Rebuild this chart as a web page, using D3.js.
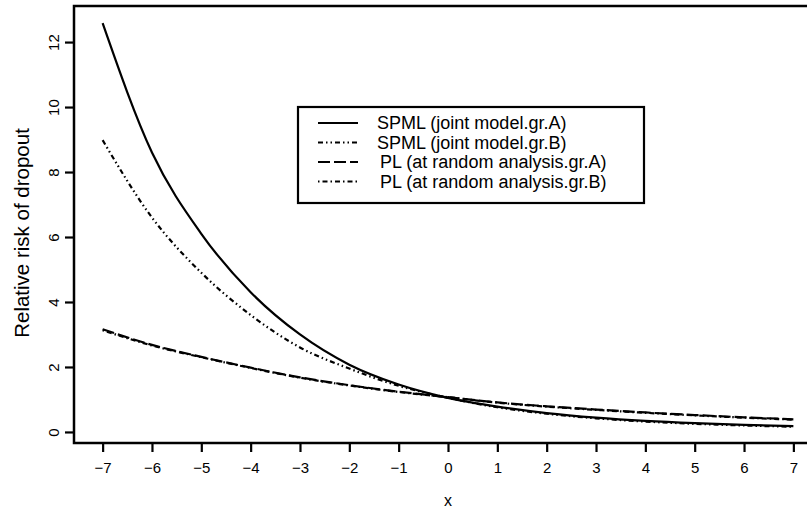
<!DOCTYPE html>
<html>
<head>
<meta charset="utf-8">
<script src="https://cdn.jsdelivr.net/npm/d3@7"></script>
<style>
  body { margin: 0; background: #fff; }
  text { font-family: "Liberation Sans", Arial, sans-serif; fill: #000; }
</style>
</head>
<body>
<div class="visHolder"></div>
<script>
// values
const xValues = [-7, -6, -5, -4, -3, -2, -1, 0, 1, 2, 3, 4, 5, 6, 7];
const spmlA = [12.58, 8.6, 6.1, 4.3, 3.0, 2.07, 1.46, 1.05, 0.78, 0.58, 0.44, 0.34, 0.27, 0.22, 0.18];
const spmlB = [8.98, 6.6, 4.9, 3.6, 2.6, 1.95, 1.42, 1.05, 0.76, 0.56, 0.42, 0.32, 0.25, 0.2, 0.16];
const plA = [3.16, 2.68, 2.31, 1.98, 1.68, 1.44, 1.24, 1.07, 0.91, 0.79, 0.69, 0.6, 0.52, 0.45, 0.39];
const plB = [3.13, 2.66, 2.3, 1.97, 1.67, 1.43, 1.23, 1.07, 0.9, 0.78, 0.68, 0.59, 0.51, 0.44, 0.38];
const seriesNames = [
  "SPML (joint model.gr.A)",
  "SPML (joint model.gr.B)",
  "PL (at random analysis.gr.A)",
  "PL (at random analysis.gr.B)"
];
const xTicks = d3.range(-7, 8, 1);
const yTicks = [0, 2, 4, 6, 8, 10, 12];

const width = 807;
const height = 512;

const series = [
  { name: seriesNames[0], values: spmlA, dash: null },
  { name: seriesNames[1], values: spmlB, dash: "5,3,1.5,3,1.5,3" },
  { name: seriesNames[2], values: plA, dash: "12,4" },
  { name: seriesNames[3], values: plB, dash: "1.5,3,5,3" }
];

const xScale = d3.scaleLinear().domain([-7.56, 7.56]).range([75, 821]);
const yScale = d3.scaleLinear().domain([-0.34, 13.11]).range([443, 6]);

const svg = d3.select(".visHolder")
  .append("svg")
  .attr("width", width)
  .attr("height", height);

// plot box (right side runs off the picture)
svg.append("rect")
  .attr("x", 74)
  .attr("y", 6)
  .attr("width", 760)
  .attr("height", 437)
  .attr("fill", "none")
  .attr("stroke", "#000")
  .attr("stroke-width", 2.5);

// curves
const line = d3.line()
  .x((d, i) => xScale(xValues[i]))
  .y(d => yScale(d))
  .curve(d3.curveMonotoneX);

svg.selectAll(".curve")
  .data(series)
  .enter()
  .append("path")
  .attr("class", "curve")
  .attr("d", d => line(d.values))
  .attr("fill", "none")
  .attr("stroke", "#000")
  .attr("stroke-width", 2.2)
  .attr("stroke-dasharray", d => d.dash);

// x axis
const xAxis = svg.append("g")
  .attr("transform", "translate(0, 443)")
  .call(d3.axisBottom(xScale).tickValues(xTicks).tickSize(9).tickPadding(10));
xAxis.select(".domain").remove();
xAxis.selectAll("line").attr("stroke-width", 2.2);
xAxis.selectAll("text")
  .style("font-family", "Liberation Sans, Arial, sans-serif")
  .style("font-size", "15px");

// y axis
const yAxis = svg.append("g")
  .attr("transform", "translate(74, 0)")
  .call(d3.axisLeft(yScale).tickValues(yTicks).tickSize(9));
yAxis.select(".domain").remove();
yAxis.selectAll("line").attr("stroke-width", 2.2);
yAxis.selectAll("text")
  .attr("x", 0)
  .attr("dy", null)
  .attr("transform", "translate(-21, 0) rotate(-90)")
  .attr("text-anchor", "middle")
  .attr("dominant-baseline", "central")
  .style("font-family", "Liberation Sans, Arial, sans-serif")
  .style("font-size", "15px");

// axis titles
svg.append("text")
  .attr("x", xScale(0))
  .attr("y", 500)
  .attr("text-anchor", "middle")
  .attr("dominant-baseline", "central")
  .style("font-size", "16px")
  .text("x");

svg.append("text")
  .attr("transform", "translate(21, 233) rotate(-90)")
  .attr("text-anchor", "middle")
  .attr("dominant-baseline", "central")
  .style("font-size", "20.5px")
  .text("Relative risk of dropout");

// legend
const legend = svg.append("g");
legend.append("rect")
  .attr("x", 298)
  .attr("y", 107)
  .attr("width", 346)
  .attr("height", 96)
  .attr("fill", "#fff")
  .attr("stroke", "#000")
  .attr("stroke-width", 2.2);

const rowY = [123, 142.5, 162, 181.5];
const textX = [377, 377, 380, 380];
const rows = legend.selectAll(".row")
  .data(series)
  .enter()
  .append("g")
  .attr("class", "row");

rows.append("line")
  .attr("x1", 318)
  .attr("x2", 358)
  .attr("y1", (d, i) => rowY[i])
  .attr("y2", (d, i) => rowY[i])
  .attr("stroke", "#000")
  .attr("stroke-width", 2.2)
  .attr("stroke-dasharray", d => d.dash);

rows.append("text")
  .attr("x", (d, i) => textX[i])
  .attr("y", (d, i) => rowY[i])
  .attr("dominant-baseline", "central")
  .style("font-size", "18px")
  .text(d => d.name);
</script>
</body>
</html>
